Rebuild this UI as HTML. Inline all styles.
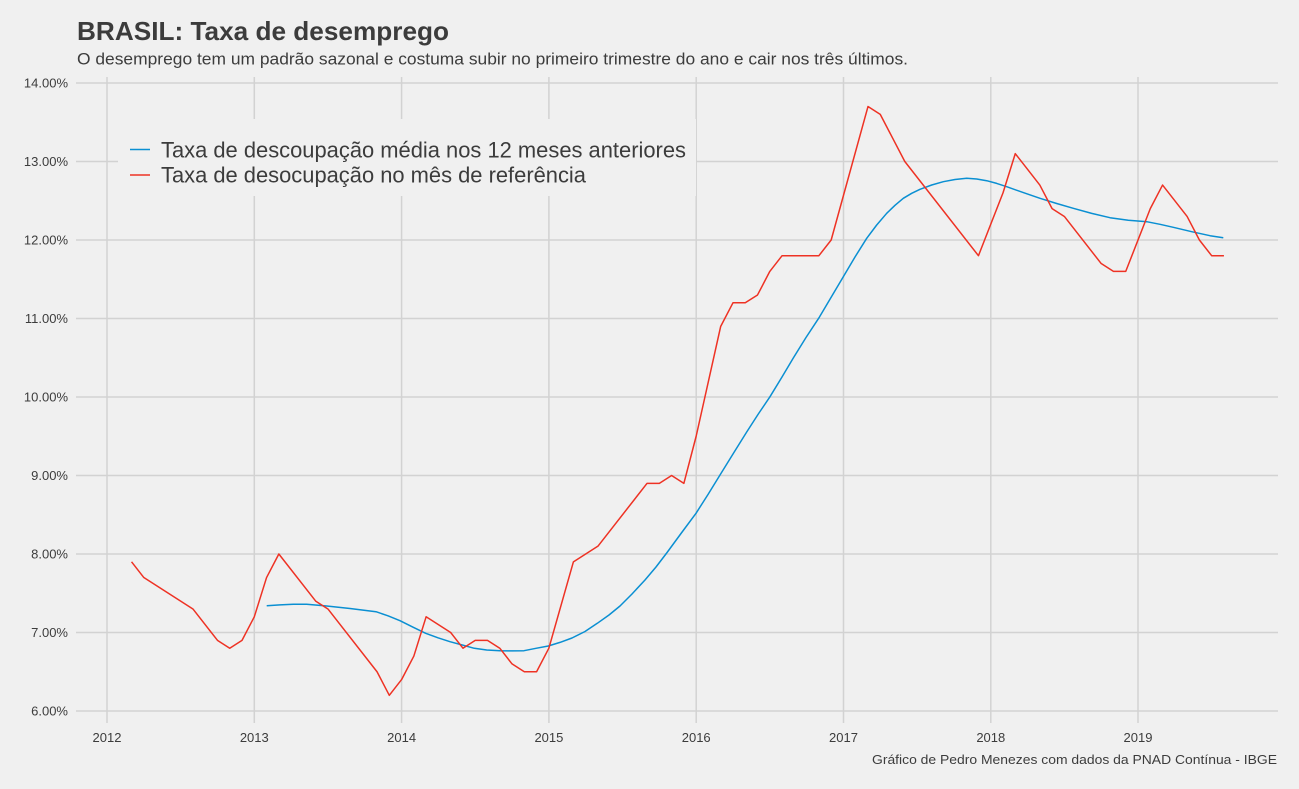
<!DOCTYPE html>
<html>
<head>
<meta charset="utf-8">
<style>
  html, body { margin:0; padding:0; background:#F0F0F0; }
  body { width:1299px; height:789px; overflow:hidden; }
  svg { display:block; font-family:"Liberation Sans", Arial, sans-serif; }
</style>
</head>
<body>
<svg width="1299" height="789" viewBox="0 0 1299 789" xmlns="http://www.w3.org/2000/svg">
  <rect x="0" y="0" width="1299" height="789" fill="#F0F0F0"/>

  <!-- Title -->
  <text x="77" y="40" font-size="26" font-weight="bold" fill="#3C3C3C" textLength="372" lengthAdjust="spacingAndGlyphs">BRASIL: Taxa de desemprego</text>
  <text x="77" y="64.5" font-size="16.5" fill="#3C3C3C" textLength="831" lengthAdjust="spacingAndGlyphs">O desemprego tem um padrão sazonal e costuma subir no primeiro trimestre do ano e cair nos três últimos.</text>

  <!-- Grid -->
  <g stroke="#D2D2D2" stroke-width="1.5" fill="none">
    <line x1="76" y1="83" x2="1278" y2="83"/>
    <line x1="76" y1="161.5" x2="1278" y2="161.5"/>
    <line x1="76" y1="240" x2="1278" y2="240"/>
    <line x1="76" y1="318.5" x2="1278" y2="318.5"/>
    <line x1="76" y1="397" x2="1278" y2="397"/>
    <line x1="76" y1="475.5" x2="1278" y2="475.5"/>
    <line x1="76" y1="554" x2="1278" y2="554"/>
    <line x1="76" y1="632.5" x2="1278" y2="632.5"/>
    <line x1="76" y1="711" x2="1278" y2="711"/>

    <line x1="107" y1="77" x2="107" y2="723"/>
    <line x1="254.3" y1="77" x2="254.3" y2="723"/>
    <line x1="401.6" y1="77" x2="401.6" y2="723"/>
    <line x1="548.9" y1="77" x2="548.9" y2="723"/>
    <line x1="696.2" y1="77" x2="696.2" y2="723"/>
    <line x1="843.5" y1="77" x2="843.5" y2="723"/>
    <line x1="990.8" y1="77" x2="990.8" y2="723"/>
    <line x1="1138" y1="77" x2="1138" y2="723"/>
  </g>

  <!-- Y labels -->
  <g font-size="13" fill="#3C3C3C" text-anchor="end">
    <text x="68" y="87.5">14.00%</text>
    <text x="68" y="166">13.00%</text>
    <text x="68" y="244.5">12.00%</text>
    <text x="68" y="323">11.00%</text>
    <text x="68" y="401.5">10.00%</text>
    <text x="68" y="480">9.00%</text>
    <text x="68" y="558.5">8.00%</text>
    <text x="68" y="637">7.00%</text>
    <text x="68" y="715.5">6.00%</text>
  </g>

  <!-- X labels -->
  <g font-size="13" fill="#3C3C3C" text-anchor="middle">
    <text x="107" y="742">2012</text>
    <text x="254.3" y="742">2013</text>
    <text x="401.6" y="742">2014</text>
    <text x="548.9" y="742">2015</text>
    <text x="696.2" y="742">2016</text>
    <text x="843.5" y="742">2017</text>
    <text x="990.8" y="742">2018</text>
    <text x="1138" y="742">2019</text>
  </g>

  <!-- Legend box -->
  <rect x="118" y="119" width="578" height="77" fill="#F0F0F0"/>
  <line x1="130" y1="149.5" x2="150" y2="149.5" stroke="#0A8FD2" stroke-width="1.5"/>
  <line x1="130" y1="175" x2="150" y2="175" stroke="#EE3224" stroke-width="1.5"/>
  <text x="161" y="157.5" font-size="22" fill="#3C3C3C" textLength="525" lengthAdjust="spacingAndGlyphs">Taxa de descoupação média nos 12 meses anteriores</text>
  <text x="161" y="182.7" font-size="22" fill="#3C3C3C" textLength="425" lengthAdjust="spacingAndGlyphs">Taxa de desocupação no mês de referência</text>

  <!-- Blue series -->
  <polyline fill="none" stroke="#0A8FD2" stroke-width="1.5" stroke-linejoin="round"
    points="266.7,605.7 280,604.9 293.3,604.3 306.7,604.3 326.7,606 350,608.5 376,611.7 388,615.8 400,620.7 413.3,627.3 425.7,633.3 438,637.8 450,641.7 462.3,645 474.3,648.3 486.7,650 500,650.7 512,650.9 524,650.7 536,648.3 548.3,646 560,642.4 572,638 585,631.5 597.3,623.3 609,615 620,606 632,594 645,580 656,567 666.7,553 681,533.5 696,513.3 708,494.5 720,475 733.3,453.5 746.7,432 758.3,414 770,396.7 782,377 793.3,358 806,337.5 819.3,317.3 831,297.5 843.3,276.7 855,257 866.7,238.3 876.7,225 886.7,213.3 895,205.3 903.3,198.3 911.7,193.3 920,189.3 931.7,185 943.3,181.7 955,179.5 966.7,178.3 976.7,179 986.7,180.7 996.7,183.4 1006.7,186.7 1023.3,192.6 1040,198.3 1056.7,203.5 1073.3,208.3 1091.7,213.4 1110,217.7 1128.3,220.3 1146.7,221.7 1160,224.3 1173.3,227.3 1191.7,231.7 1210,235.7 1223.3,237.7"/>

  <!-- Red series -->
  <polyline fill="none" stroke="#EE3224" stroke-width="1.5" stroke-linejoin="round"
    points="131.55,561.85 143.82,577.55 192.92,608.95 217.47,640.35 229.74,648.2 242.01,640.35 254.29,616.8 266.56,577.55 278.84,554 315.66,601.1 327.93,608.95 377.03,671.75 389.30,695.3 401.58,679.6 413.85,656.05 426.12,616.8 450.67,632.5 462.95,648.2 475.22,640.35 487.49,640.35 499.77,648.2 512.04,663.9 524.32,671.75 536.59,671.75 548.86,648.2 573.41,561.85 597.96,546.15 647.06,483.35 659.33,483.35 671.60,475.5 683.88,483.35 696.15,436.25 720.70,326.35 732.97,302.8 745.25,302.8 757.52,294.95 769.80,271.4 782.07,255.7 818.89,255.7 831.17,240 867.99,106.55 880.26,114.4 892.54,137.95 904.81,161.5 978.45,255.7 1003.00,192.9 1015.28,153.65 1027.55,169.35 1039.82,185.05 1052.10,208.6 1064.37,216.45 1101.19,263.55 1113.47,271.4 1125.74,271.4 1150.29,208.6 1162.56,185.05 1187.11,216.45 1199.39,240 1211.66,255.7 1223.93,255.7"/>

  <!-- Caption -->
  <text x="1277" y="764" font-size="13" fill="#3C3C3C" text-anchor="end" textLength="405" lengthAdjust="spacingAndGlyphs">Gráfico de Pedro Menezes com dados da PNAD Contínua - IBGE</text>
</svg>
</body>
</html>
